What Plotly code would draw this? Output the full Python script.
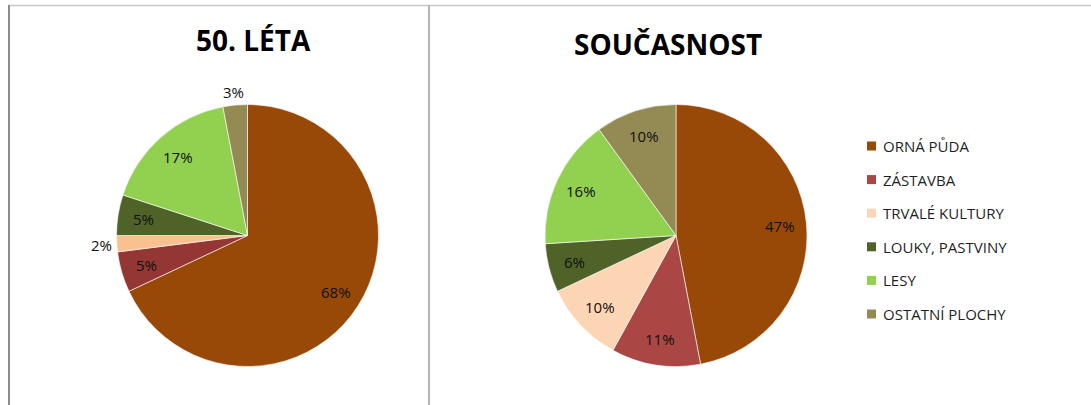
import math
import plotly.graph_objects as go

categories = ["ORNÁ PŮDA", "ZÁSTAVBA", "TRVALÉ KULTURY", "LOUKY, PASTVINY", "LESY", "OSTATNÍ PLOCHY"]
values_50 = [68, 5, 2, 5, 17, 3]
values_now = [47, 11, 10, 6, 16, 10]
titles = ["50. LÉTA", "SOUČASNOST"]

colors_50 = ["#984807", "#943634", "#FAC090", "#4F6228", "#92D050", "#948A54"]
colors_now = ["#984807", "#AA4745", "#FCD5B5", "#4F6228", "#92D050", "#948A54"]
# label placement: radial factor of the radius (inside ~0.8, outside ~1.1)
labelpos_50 = [0.8, 0.8, 1.12, 0.8, 0.8, 1.1]
labelpos_now = [0.8] * 6

W, H = 1091, 405
R = 131
centers = [(247.5, 235.5), (676, 235.5)]

fig = go.Figure()
annotations = []


def dom(cx, cy, r):
    return dict(x=[(cx - r) / W, (cx + r) / W], y=[(H - cy - r) / H, (H - cy + r) / H])


for (cx, cy), vals, cols, lpos in zip(centers, [values_50, values_now],
                                      [colors_50, colors_now], [labelpos_50, labelpos_now]):
    fig.add_trace(go.Pie(
        labels=categories, values=vals, sort=False, direction="clockwise", rotation=0,
        marker=dict(colors=cols, line=dict(color="white", width=0.6)),
        textinfo="none", domain=dom(cx, cy, R), showlegend=False,
        hoverinfo="label+value"))
    total = sum(vals)
    cum = 0
    for v, k in zip(vals, lpos):
        ang = 2 * math.pi * (cum + v / 2) / total
        cum += v
        px = cx + k * R * math.sin(ang)
        py = cy - k * R * math.cos(ang)
        annotations.append(dict(text="%d%%" % round(100 * v / total), x=px / W, y=(H - py) / H,
                                xref="paper", yref="paper", xanchor="center", yanchor="middle",
                                showarrow=False,
                                font=dict(family="Open Sans", size=15, color="#111111")))

annotations += [
    dict(text="<b>%s</b>" % titles[0], x=253 / W, y=(H - 40) / H, xref="paper", yref="paper",
         xanchor="center", yanchor="middle", showarrow=False,
         font=dict(family="Open Sans", size=28, color="black")),
    dict(text="<b>%s</b>" % titles[1], x=668 / W, y=(H - 44) / H, xref="paper", yref="paper",
         xanchor="center", yanchor="middle", showarrow=False,
         font=dict(family="Open Sans", size=28, color="black")),
]
shapes = [
    dict(type="line", xref="paper", yref="paper", x0=8 / W, x1=1, y0=(H - 5.5) / H, y1=(H - 5.5) / H,
         line=dict(color="#C8C8C8", width=1.5)),
    dict(type="line", xref="paper", yref="paper", x0=9 / W, x1=9 / W, y0=0, y1=(H - 5) / H,
         line=dict(color="#8C8C8C", width=2)),
    dict(type="line", xref="paper", yref="paper", x0=429 / W, x1=429 / W, y0=0, y1=(H - 5) / H,
         line=dict(color="#B4B4B4", width=2)),
]

# manual legend
ly0, dy = 146, 33.6
for i, (cat, col) in enumerate(zip(categories, colors_now)):
    yc = ly0 + i * dy
    shapes.append(dict(type="rect", xref="paper", yref="paper",
                       x0=867 / W, x1=876 / W, y0=(H - yc - 4.5) / H, y1=(H - yc + 4.5) / H,
                       fillcolor=col, line=dict(width=0)))
    annotations.append(dict(text=cat, x=881 / W, y=(H - yc) / H, xref="paper", yref="paper",
                            xanchor="left", yanchor="middle", showarrow=False,
                            font=dict(family="Open Sans", size=15, color="#1F1F1F")))

fig.update_layout(width=W, height=H, margin=dict(l=0, r=0, t=0, b=0),
                  paper_bgcolor="white", plot_bgcolor="white",
                  annotations=annotations, shapes=shapes)
fig.write_html("out.html", config={"displayModeBar": False},
               post_script="document.body.style.margin='0';")
